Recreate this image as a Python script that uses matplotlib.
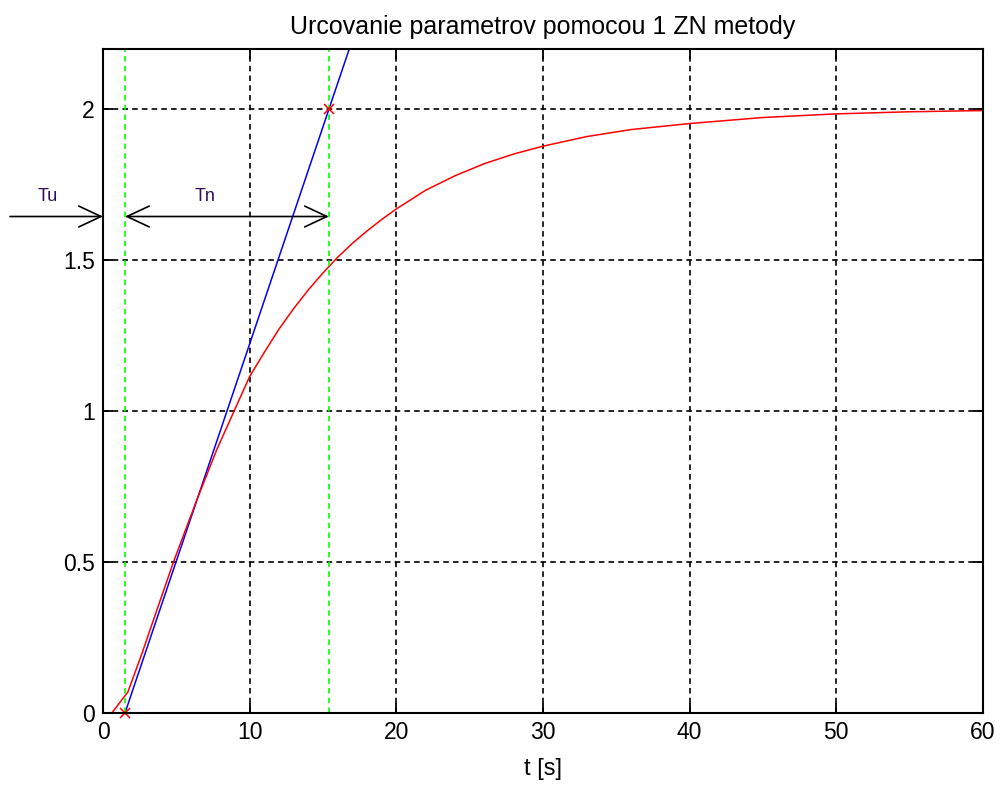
import numpy as np
import matplotlib
matplotlib.use("Agg")
import matplotlib.pyplot as plt

# step response
t = [0, 0.6, 1.7, 2.64, 3.7, 4.84, 6.43, 7.75, 10.0, 11.0, 12.0, 13.0,
     14.0, 15.0, 16.0, 17.0, 18.0, 19.0, 20.0, 22.0, 24.0, 26.0, 28.0,
     30.0, 33.0, 36.0, 40.0, 45.0, 50.0, 55.0, 60.0]
y = [0, 0, 0.07, 0.195, 0.345, 0.505, 0.71, 0.872, 1.115, 1.195, 1.272, 1.34,
     1.402, 1.458, 1.51, 1.556, 1.597, 1.635, 1.67, 1.732, 1.78, 1.82, 1.852,
     1.878, 1.91, 1.933, 1.953, 1.973, 1.985, 1.992, 1.996]

# ZN parameters
Tu = 1.5
Tn = 13.9
K = 2.0
arrow_y = 1.645
tu_start = -6.34

title = "Urcovanie parametrov pomocou 1 ZN metody"
xticks = [0, 10, 20, 30, 40, 50, 60]
yticks = [0, 0.5, 1, 1.5, 2]

plt.rcParams["font.family"] = ["Liberation Sans", "DejaVu Sans"]
plt.rcParams["lines.scale_dashes"] = False

fig = plt.figure(figsize=(10.01, 7.85), dpi=100)
ax = fig.add_axes([0.1029, 0.0917, 0.8791, 0.8459])

# tangent line through inflection
t_end = Tu + Tn * 2.2 / K
ax.plot([Tu, t_end], [0, 2.2], color="blue", lw=1.1)
ax.plot(t, y, color="red", lw=1.1)

# green helper lines
for xv in (Tu, Tu + Tn):
    ax.axvline(xv, color="#00ff00", lw=1.2, linestyle=(0, (4, 3)))

ax.plot([Tu, Tu + Tn], [0, K], "x", color="red", ms=7, mew=1.1, clip_on=False)

# arrows
ap = dict(arrowstyle="->,head_length=1.6,head_width=0.75", color="black",
          lw=1.2, shrinkA=0, shrinkB=0, mutation_scale=10)
ax.annotate("", xy=(0, arrow_y), xytext=(tu_start, arrow_y),
            arrowprops=ap, annotation_clip=False)
ap2 = dict(ap, arrowstyle="<->,head_length=1.6,head_width=0.75")
ax.annotate("", xy=(Tu + Tn, arrow_y), xytext=(Tu, arrow_y),
            arrowprops=ap2, annotation_clip=False)
ax.text(-3.8, 1.711, "Tu", fontsize=13, ha="center", va="center",
        color="#301050", clip_on=False)
ax.text(6.95, 1.711, "Tn", fontsize=13, ha="center", va="center",
        color="#301050")

ax.set_xlim(0, 60)
ax.set_ylim(0, 2.2)
ax.set_xticks(xticks)
ax.set_yticks(yticks)
ax.set_xticklabels([str(v) for v in xticks])
ax.set_yticklabels([f"{v:g}" for v in yticks])
ax.grid(True, color="black", lw=1.2, linestyle=(0, (4, 3)))
ax.tick_params(direction="in", length=7, width=1.3, labelsize=16.5,
               top=True, right=True, pad=6)
for s in ax.spines.values():
    s.set_linewidth(1.5)

ax.set_title(title, fontsize=18, pad=11)
ax.set_xlabel("t [s]", fontsize=17, labelpad=10)

fig.savefig("out.png", dpi=100)
